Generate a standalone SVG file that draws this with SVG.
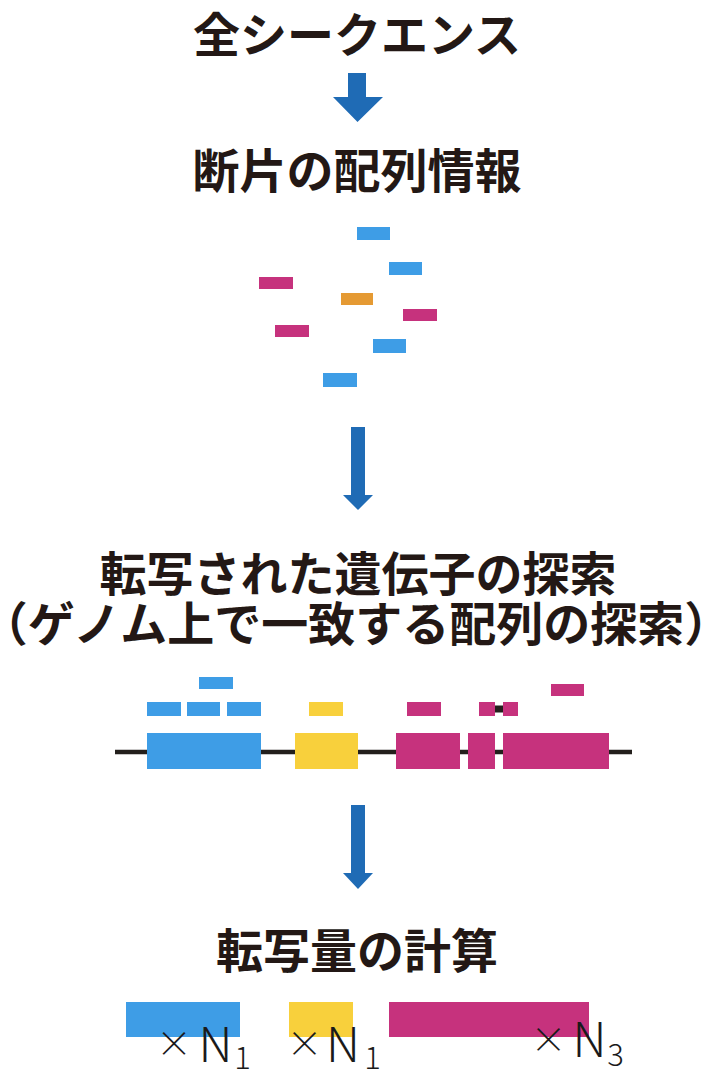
<svg xmlns="http://www.w3.org/2000/svg" width="706" height="1070" viewBox="0 0 706 1070">
<style>
.t{font-family:"Noto Sans CJK JP","Noto Sans",sans-serif;font-weight:700;font-size:47px;fill:#231815;text-anchor:middle}
.m{font-family:"Noto Sans CJK JP","Noto Sans",sans-serif;font-weight:300;font-size:48px;fill:#1a1a1a}
.s{font-size:31px}
.x{font-size:36px}
.b{fill:#3e9de6}
.p{fill:#c6327d}
.o{fill:#e59a33}
.y{fill:#f8d03c}
.a{fill:#1f6bb5}
.g{stroke:#231f1c;stroke-width:4.5;fill:none}
</style>
<rect width="706" height="1070" fill="#fff"/>
<g id="title-all"><text class="t" x="357" y="52">全シークエンス</text></g>
<g id="title-fragments"><text class="t" x="357" y="188">断片の配列情報</text></g>
<g id="fragments">
<rect class="b" x="357" y="227" width="33" height="13"/>
<rect class="b" x="389" y="262" width="33" height="13"/>
<rect class="p" x="259" y="277" width="34" height="12"/>
<rect class="o" x="341" y="293" width="32" height="12"/>
<rect class="p" x="403" y="309" width="34" height="12"/>
<rect class="p" x="275" y="325" width="34" height="12"/>
<rect class="b" x="373" y="339" width="33" height="14"/>
<rect class="b" x="323" y="373" width="34" height="14"/>
</g>
<g id="title-search">
<text class="t" x="358" y="591">転写された遺伝子の探索</text>
<text class="t" x="356" y="641">（ゲノム上で一致する配列の探索）</text>
</g>
<g id="genome">
<line class="g" x1="115" y1="752" x2="632" y2="752"/>
<line class="g" x1="495" y1="709" x2="503" y2="709" style="stroke-width:7"/>
<rect class="b" x="147" y="733" width="114" height="36"/>
<rect class="y" x="295" y="733" width="63" height="36"/>
<rect class="p" x="396" y="733" width="64" height="36"/>
<rect class="p" x="468" y="733" width="27" height="36"/>
<rect class="p" x="503" y="733" width="106" height="36"/>
<rect class="b" x="199" y="677" width="34" height="12"/>
<rect class="b" x="147" y="702" width="34" height="14"/>
<rect class="b" x="187" y="702" width="33" height="14"/>
<rect class="b" x="227" y="702" width="34" height="14"/>
<rect class="y" x="309" y="702" width="34" height="14"/>
<rect class="p" x="407" y="702" width="34" height="14"/>
<rect class="p" x="479" y="702" width="16" height="14"/>
<rect class="p" x="503" y="702" width="15" height="14"/>
<rect class="p" x="551" y="684" width="33" height="12"/>
</g>
<g id="title-quant"><text class="t" x="357" y="968">転写量の計算</text></g>
<g id="quant">
<rect class="b" x="126" y="1002" width="114" height="35"/>
<rect class="y" x="289" y="1002" width="64" height="35"/>
<rect class="p" x="389" y="1002" width="200" height="35"/>
<text class="m"><tspan class="x" x="174" y="1056.5" text-anchor="middle">×</tspan><tspan x="215.5" y="1062" text-anchor="middle">N</tspan><tspan class="s" x="242.5" y="1069" text-anchor="middle">1</tspan></text>
<text class="m"><tspan class="x" x="304.5" y="1056.5" text-anchor="middle">×</tspan><tspan x="343" y="1062" text-anchor="middle">N</tspan><tspan class="s" x="372.5" y="1069" text-anchor="middle">1</tspan></text>
<text class="m"><tspan class="x" x="548.5" y="1052.5" text-anchor="middle">×</tspan><tspan x="589.5" y="1057" text-anchor="middle">N</tspan><tspan class="s" x="615.5" y="1066" text-anchor="middle">3</tspan></text>
</g>
<g id="connectors">
<polygon class="a" points="348,73 366,73 366,97 383,97 357.5,122 333,97 348,97"/>
<polygon class="a" points="351,427 365,427 365,495 373,495 358,510 343,495 351,495"/>
<polygon class="a" points="351,805 365,805 365,873 373,873 358,889 343,873 351,873"/>
</g>
</svg>
